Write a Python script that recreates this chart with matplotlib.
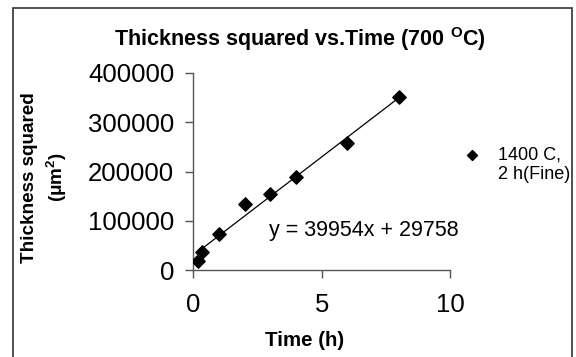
import numpy as np
import matplotlib
matplotlib.use("Agg")
import matplotlib.pyplot as plt
from matplotlib.patches import Rectangle

plt.rcParams['font.family'] = ['Liberation Sans', 'DejaVu Sans']
plt.rcParams['mathtext.fontset'] = 'custom'
plt.rcParams['mathtext.rm'] = 'Liberation Sans'
plt.rcParams['mathtext.bf'] = 'Liberation Sans:bold'
plt.rcParams['mathtext.it'] = 'Liberation Sans:italic'

# data
time_h = [0.17, 0.33, 1, 2, 3, 4, 6, 8]
thick_sq = [18900, 35900, 72500, 134000, 154300, 188200, 257200, 351800]

# trendline from the equation printed on the chart
slope = 39954
intercept = 29758

series_label = '1400 C,\n2 h(Fine)'
xticks = [0, 5, 10]
yticks = [0, 100000, 200000, 300000, 400000]

W, H = 576, 357
fig = plt.figure(figsize=(W / 100, H / 100), dpi=100)
ax = fig.add_axes([193.3 / W, 1 - 270 / H, 256.7 / W, 197 / H])

ax.scatter(time_h, thick_sq, marker='D', s=46, color='black', zorder=3,
           label=series_label)
xfit = np.array([min(time_h), max(time_h)])
ax.plot(xfit, slope * xfit + intercept, color='black', lw=0.9, zorder=2)

ax.set_xlim(0, 10)
ax.set_ylim(0, 400000)
ax.set_xticks(xticks)
ax.set_yticks(yticks)
ax.set_xticklabels([str(v) for v in xticks])
ax.set_yticklabels([str(v) for v in yticks])

for s in ['top', 'right']:
    ax.spines[s].set_visible(False)
for s in ['left', 'bottom']:
    ax.spines[s].set_color('#555555')
    ax.spines[s].set_linewidth(1.0)
ax.tick_params(axis='both', direction='out', length=5.8, width=1.0,
               color='#555555', labelsize=18.5)
ax.tick_params(axis='y', pad=8)
ax.tick_params(axis='x', pad=11)

ax.text(2.95, 81200, 'y = 39954x + 29758', fontsize=15.5, ha='left',
        va='center')

fig.text(300 / W, 1 - 39 / H, r'Thickness squared vs.Time (700 $^{\mathbf{O}}$C)',
         fontsize=15.5, fontweight='bold', ha='center', va='center')
fig.text(45 / W, 1 - 177.5 / H, 'Thickness squared\n(μm$^{\\mathbf{2}}$)',
         fontsize=13.6, fontweight='bold', rotation=90, ha='center',
         va='center', multialignment='center', linespacing=1.4)
fig.text(305 / W, 1 - 341 / H, 'Time (h)', fontsize=14.8, fontweight='bold',
         ha='center', va='center')

leg = fig.legend(loc='center left', bbox_to_anchor=(463 / W, 1 - 165 / H),
                 frameon=False, fontsize=13, borderpad=0, borderaxespad=0,
                 handlelength=1.0, handletextpad=0.95, markerscale=0.75,
                 scatterpoints=1, scatteryoffsets=[1.3])

# outer chart border
fig.patches.append(Rectangle((12.5 / W, -0.05), (572 - 12.5) / W, 1.05 - 8 / H,
                             transform=fig.transFigure, fill=False,
                             edgecolor='#333333', lw=1.2))

fig.savefig('out.png', dpi=100)
